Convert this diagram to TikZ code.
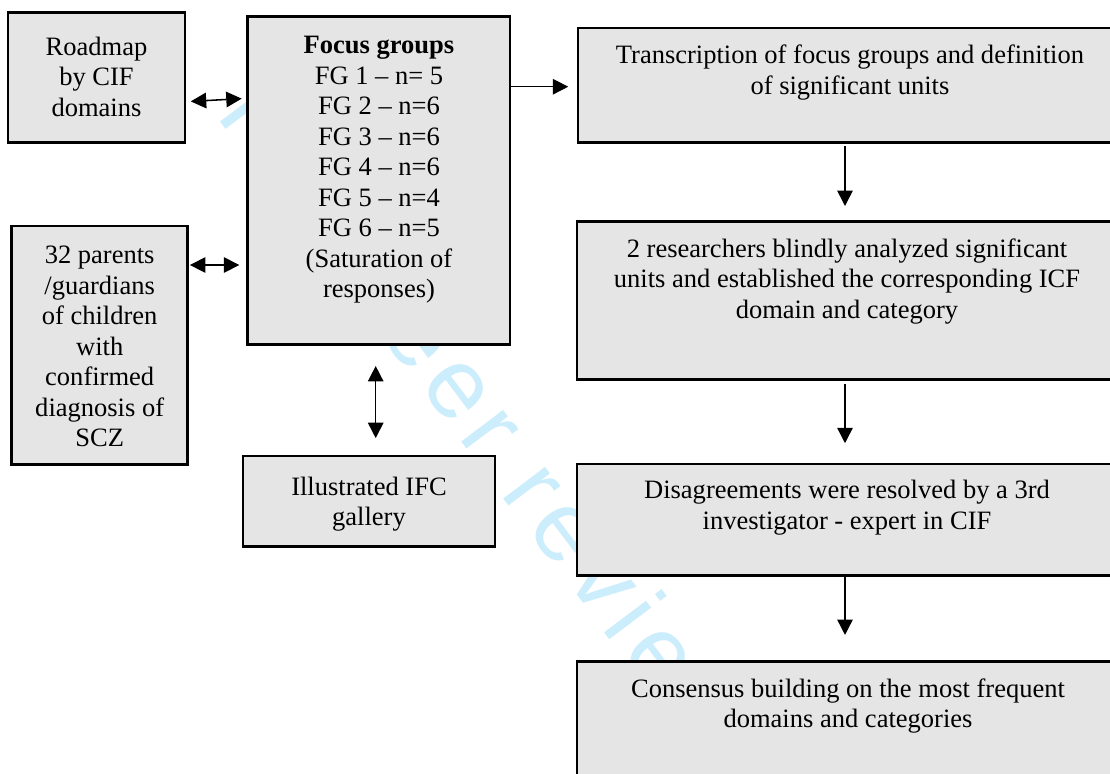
\documentclass[tikz,border=0pt]{standalone}
\usepackage{fontspec}
\setmainfont{Liberation Serif}
\newfontfamily\wmfont[LetterSpace=10]{Liberation Sans}
\usetikzlibrary{arrows.meta,fit,calc}
\definecolor{boxfill}{RGB}{229,229,229}
\definecolor{wmcolor}{RGB}{204,237,252}
\newcommand{\fs}{\rule{0pt}{10pt}}
\begin{document}
\begin{tikzpicture}[x=0.4525pt,y=-0.4525pt,
  box/.style={draw=black, line width=1.3pt, fill=boxfill, inner sep=0pt, outer sep=0pt},
  txt/.style={anchor=north, yshift=10pt, align=center, inner sep=0pt, font=\fontsize{12}{13.8}\selectfont},
  arr/.style={line width=0.7pt, -{Triangle[length=7pt,width=7pt]}},
  dbl/.style={line width=0.7pt, {Triangle[length=7pt,width=7pt]}-{Triangle[length=7pt,width=7pt]}}]
\useasboundingbox (0,0) rectangle (1110,773);
\clip (0,0) rectangle (1110,773);
% watermark
\node[anchor=base west, rotate=-53, inner sep=0pt, text=wmcolor, font=\wmfont\fontsize{45}{50}\selectfont] (wm) at (215,115) {For peer review only};
% boxes
\node[box, fit={(8,12.3) (185,142.7)}] (road) {};
\node[box, fit={(247.7,16.7) (510,344.3)}] (focus) {};
\node[box, fit={(578,28) (1119,142.7)}] (trans) {};
\node[box, fit={(11.8,226) (187.5,464.3)}] (par) {};
\node[box, fit={(577,221.7) (1119,379.3)}] (res) {};
\node[box, fit={(243,456) (495,546.7)}] (gal) {};
\node[box, fit={(577,464) (1119,575.7)}] (dis) {};
\node[box, fit={(577,661.7) (1119,800)}] (con) {};
% texts
\node[txt] (roadT) at (96.5,55) {\fs Roadmap\\by CIF\\domains};
\node[txt] (focusT) at (379,53.3) {\fs\textbf{Focus groups}\\FG 1 – n= 5\\FG 2 – n=6\\FG 3 – n=6\\FG 4 – n=6\\FG 5 – n=4\\FG 6 – n=5\\(Saturation of\\responses)};
\node[txt] (transT) at (850,63.3) {\fs Transcription of focus groups and definition\\of significant units};
\node[txt] (parT) at (99.7,263.3) {\fs 32 parents\\/guardians\\of children\\with\\confirmed\\diagnosis of\\SCZ};
\node[txt] (resT) at (847,256.7) {\fs 2 researchers blindly analyzed significant\\units and established the corresponding ICF\\domain and category};
\node[txt] (galT) at (369,495) {\fs Illustrated IFC\\gallery};
\node[txt] (disT) at (847,498.3) {\fs Disagreements were resolved by a 3rd\\investigator - expert in CIF};
\node[txt] (conT) at (848,696.7) {\fs Consensus building on the most frequent\\domains and categories};
% connectors
\draw[dbl, shorten <=2.6pt, shorten >=2.7pt] (road.east |- 0,101.7) -- (focus.west |- 0,98.3);
\draw[dbl, shorten <=1.1pt, shorten >=3.8pt] (par.east |- 0,265) -- (focus.west |- 0,265);
\draw[arr, shorten >=4.4pt] (focus.east |- 0,86.7) -- (trans.west |- 0,86.7);
\draw[dbl, shorten <=9.8pt, shorten >=8.1pt] (focus.south -| 375.7,0) -- (gal.north -| 375.7,0);
\draw[arr, shorten <=1.5pt, shorten >=7.1pt] (trans.south -| 845,0) -- (res.north -| 845,0);
\draw[arr, shorten <=2.1pt, shorten >=9.4pt] (res.south -| 845,0) -- (dis.north -| 845,0);
\draw[arr, shorten <=0.5pt, shorten >=12.1pt] (dis.south -| 845,0) -- (con.north -| 845,0);
\end{tikzpicture}
\end{document}
